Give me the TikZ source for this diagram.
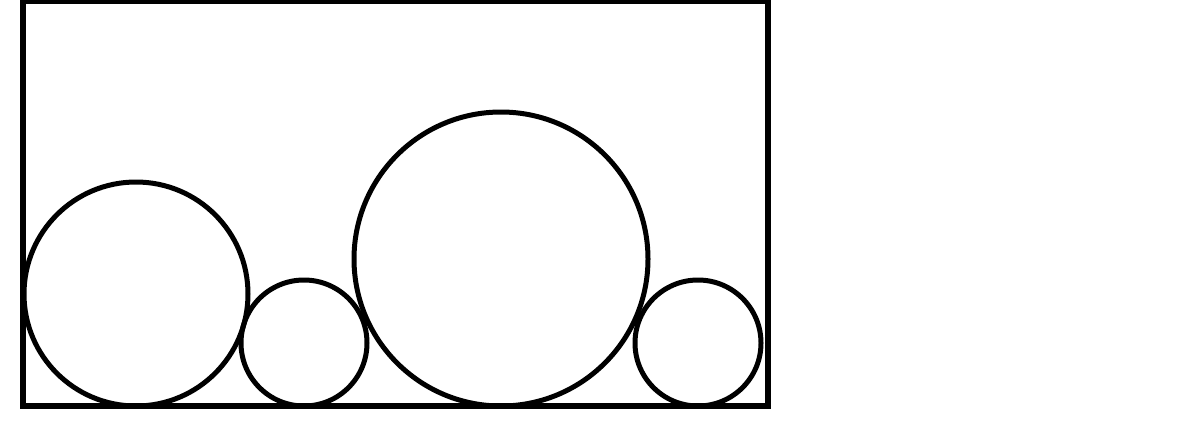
\documentclass[tikz,border=0pt]{standalone}
\usepackage{tikz}

\begin{document}
\begin{tikzpicture}[x=0.02cm, y=-0.02cm]
		\tikzstyle {wall} = [line width=0.105cm]
		\tikzstyle {ball} = [line width=0.1cm]

		\useasboundingbox (0, 0) rectangle (1200, 430);

		\draw[wall] (23, 1) rectangle (768, 406);

		\draw[ball] (136, 294) circle (112);
		\draw[ball] (304, 343) circle (63);
		\draw[ball] (501, 259) circle (147);
		\draw[ball] (698, 343) circle (63);

	\end{tikzpicture}
\end{document}
